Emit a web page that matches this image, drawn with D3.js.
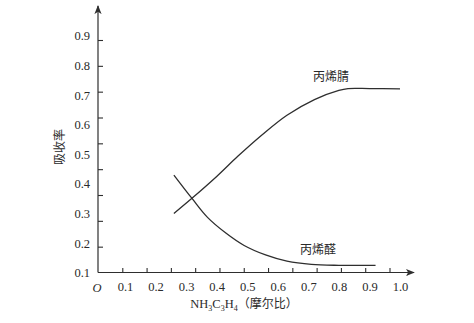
<!DOCTYPE html>
<html>
<head>
<meta charset="utf-8">
<script src="https://cdn.jsdelivr.net/npm/d3@7/dist/d3.min.js"></script>
<style>
  html, body { margin: 0; padding: 0; background: #fff; }
  svg { display: block; }
  .num { font-family: "Liberation Serif", "DejaVu Serif", serif; font-size: 12.5px; fill: #2a2a2a; }
  .cjk { font-family: "Noto Sans CJK SC", sans-serif; font-size: 12px; fill: #2a2a2a; }
</style>
</head>
<body>
<svg id="chart" width="474" height="323"></svg>
<script>
// Molar ratio NH3/C3H4 (x) and absorption rate (y)
const xTickLabels = [0.1, 0.2, 0.3, 0.4, 0.5, 0.6, 0.7, 0.8, 0.9, 1.0];
const yTickLabels = [0.1, 0.2, 0.3, 0.4, 0.5, 0.6, 0.7, 0.8, 0.9];
const xTickMarks = d3.range(1, 13);   // small ticks along the ratio axis
const yTickMarks = d3.range(1, 10);   // small ticks along the rate axis

// 丙烯腈 (acrylonitrile)
const nitrileX = [0.26, 0.32, 0.40, 0.47, 0.55, 0.63, 0.72, 0.80, 0.83, 0.90, 1.00];
const nitrileY = [0.30, 0.352, 0.425, 0.494, 0.567, 0.632, 0.685, 0.716, 0.722, 0.722, 0.721];
// 丙烯醛 (acrolein)
const aldehydeX = [0.26, 0.32, 0.37, 0.43, 0.49, 0.56, 0.63, 0.71, 0.80, 0.92];
const aldehydeY = [0.43, 0.35, 0.287, 0.234, 0.192, 0.16, 0.139, 0.128, 0.125, 0.125];

const svg = d3.select("#chart");
const ox = 98, oy = 272.5;

const x = d3.scaleLinear().domain([0.1, 1.0]).range([125, 400]);
const y = d3.scaleLinear().domain([0.1, 0.9]).range([272.7, 35.9]);
const xt = d3.scaleLinear().domain([0, 12]).range([ox, 389.5]);
const yt = d3.scaleLinear().domain([0, 9]).range([oy, 40]);

const ink = "#2e2e2e";

// Arrow head
svg.append("defs").append("marker")
  .attr("id", "arrow").attr("viewBox", "0 0 10 10")
  .attr("refX", 9).attr("refY", 5)
  .attr("markerWidth", 9).attr("markerHeight", 9)
  .attr("markerUnits", "userSpaceOnUse")
  .attr("orient", "auto")
  .append("path").attr("d", "M0,1 L10,5 L0,9 L2.5,5 Z").attr("fill", ink);

// Axis lines with arrows
svg.append("line").attr("x1", ox).attr("y1", oy).attr("x2", 414).attr("y2", oy)
  .attr("stroke", ink).attr("stroke-width", 1.2).attr("marker-end", "url(#arrow)");
svg.append("line").attr("x1", ox).attr("y1", oy).attr("x2", ox).attr("y2", 6)
  .attr("stroke", ink).attr("stroke-width", 1.2).attr("marker-end", "url(#arrow)");

// Inward tick marks
const xMarks = svg.append("g").attr("transform", `translate(0,${oy})`)
  .call(d3.axisTop(xt).tickValues(xTickMarks).tickSize(4.5).tickFormat(""));
const yMarks = svg.append("g").attr("transform", `translate(${ox},0)`)
  .call(d3.axisRight(yt).tickValues(yTickMarks).tickSize(5).tickFormat(""));
[xMarks, yMarks].forEach(g => {
  g.select(".domain").remove();
  g.selectAll("line").attr("stroke", ink).attr("stroke-width", 1.1);
});

// Tick labels
const xLab = svg.append("g").attr("transform", `translate(0,${oy})`)
  .call(d3.axisBottom(x).tickValues(xTickLabels).tickSize(0).tickPadding(10)
    .tickFormat(d3.format(".1f")));
const yLab = svg.append("g").attr("transform", "translate(90,0)")
  .call(d3.axisLeft(y).tickValues(yTickLabels).tickSize(0).tickPadding(0)
    .tickFormat(d3.format(".1f")));
[xLab, yLab].forEach(g => {
  g.select(".domain").remove();
  g.selectAll("text").attr("class", "num").attr("fill", null)
    .attr("font-family", null).attr("font-size", null);
});

// Origin
svg.append("text").attr("class", "num").attr("x", 97).attr("y", 292)
  .attr("text-anchor", "middle").attr("font-style", "italic").text("O");

// Curves
const line = d3.line().x(d => x(d[0])).y(d => y(d[1])).curve(d3.curveCatmullRom.alpha(0.5));
svg.append("path").datum(d3.zip(nitrileX, nitrileY)).attr("d", line)
  .attr("fill", "none").attr("stroke", ink).attr("stroke-width", 1.3);
svg.append("path").datum(d3.zip(aldehydeX, aldehydeY)).attr("d", line)
  .attr("fill", "none").attr("stroke", ink).attr("stroke-width", 1.3);

// Curve names
svg.append("text").attr("class", "cjk").attr("x", 331).attr("y", 81)
  .attr("text-anchor", "middle").text("丙烯腈");
svg.append("text").attr("class", "cjk").attr("x", 318).attr("y", 254)
  .attr("text-anchor", "middle").text("丙烯醛");

// Y axis title
svg.append("text").attr("class", "cjk")
  .attr("transform", "translate(64,147) rotate(-90)")
  .attr("text-anchor", "middle").text("吸收率");

// X axis title: NH3C3H4 with subscript digits, then the unit note
const title = svg.append("text").attr("x", 244).attr("y", 308)
  .attr("text-anchor", "middle");
const parts = [["NH", 0], ["3", 1], ["C", 0], ["3", 1], ["H", 0], ["4", 1]];
let shifted = false;
parts.forEach(([t, sub]) => {
  const dy = sub ? (shifted ? 0 : 3) : (shifted ? -3 : 0);
  shifted = !!sub;
  title.append("tspan")
    .style("font-family", "'Liberation Serif', 'DejaVu Serif', serif")
    .style("font-size", sub ? "8px" : "12.5px")
    .style("fill", "#2a2a2a")
    .attr("dy", dy)
    .text(t);
});
title.append("tspan")
  .style("font-family", "'Noto Sans CJK SC', sans-serif")
  .style("font-size", "12px")
  .style("fill", "#2a2a2a")
  .attr("dy", -3)
  .text("（摩尔比）");
</script>
</body>
</html>
